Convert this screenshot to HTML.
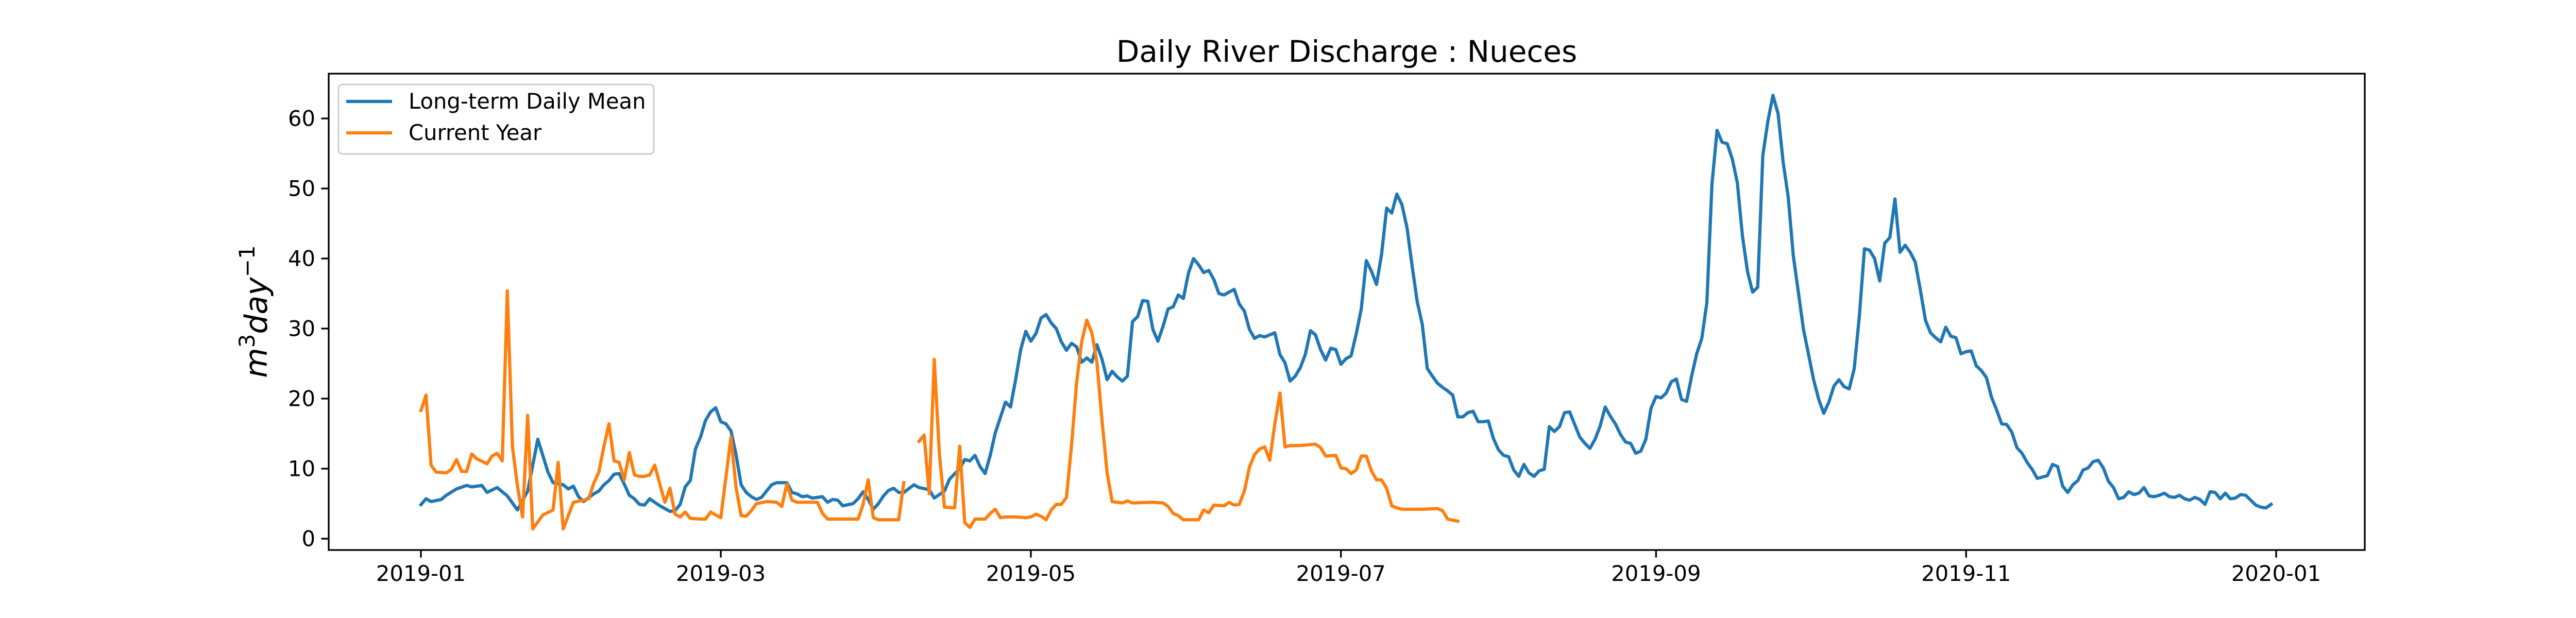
<!DOCTYPE html>
<html><head><meta charset="utf-8"><style>
html,body{margin:0;padding:0;background:#fff;}
svg{display:block;font-family:"DejaVu Sans","Liberation Sans",sans-serif;}
</style></head><body>
<svg id="chart" width="5100" height="1200" viewBox="0 0 5100 1200" xmlns="http://www.w3.org/2000/svg">
<rect x="0" y="0" width="5100" height="1200" fill="#fff"/>
<text x="2614" y="120" font-size="58" text-anchor="middle" fill="#000">Daily River Discharge : Nueces</text>
<g id="plot"></g>
<text transform="translate(518,605) rotate(-90)" font-size="60" text-anchor="middle" fill="#000" font-style="italic">m<tspan font-style="normal" font-size="42" dy="-24">3</tspan><tspan dy="24">day</tspan><tspan font-style="normal" font-size="42" dy="-24">−1</tspan></text>
<g>
<rect x="657" y="164" width="612" height="135" rx="8" fill="#fff" fill-opacity="0.8" stroke="#ccc" stroke-width="3"/>
<line x1="672" y1="197" x2="761" y2="197" stroke="#1f77b4" stroke-width="6.25"/>
<text x="793" y="211" font-size="41.7" fill="#000">Long-term Daily Mean</text>
<line x1="672" y1="258" x2="761" y2="258" stroke="#ff7f0e" stroke-width="6.25"/>
<text x="793" y="272" font-size="41.7" fill="#000">Current Year</text>
</g>
</svg>
<script>
const meanDays=[0,1,2,4,5,7,9,10,12,13,15,17,19,21,23,25,26,28,29,30,31,32,34,35,36,37,38,39,40,41,42,43,44,45,46,47,49,50,51,52,53,54,55,56,57,58,59,60,61,62,63,64,65,66,67,68,69,70,72,73,74,75,76,77,79,80,81,82,83,85,86,87,88,89,90,91,92,93,94,95,97,98,100,101,103,104,106,107,108,109,110,111,112,113,114,115,116,117,118,119,120,121,122,123,124,125,126,127,128,129,130,131,132,133,134,135,136,137,138,139,140,141,142,143,144,145,146,147,148,149,150,151,152,153,154,155,156,157,158,159,160,161,162,163,164,165,166,167,168,169,170,171,172,173,174,175,176,177,178,179,180,181,182,183,184,185,186,187,188,189,190,191,192,193,194,195,196,197,198,199,200,201,202,203,204,205,206,207,208,209,210,211,212,213,214,215,216,217,218,219,220,221,222,223,224,225,226,227,228,229,230,231,232,233,234,235,236,237,238,239,240,241,242,243,244,245,246,247,248,249,250,251,252,253,254,255,256,257,258,259,260,261,262,263,264,265,266,267,268,269,270,271,272,273,274,275,276,277,278,279,280,281,282,283,284,285,286,287,288,289,290,291,292,293,294,295,296,297,298,299,300,301,302,303,304,305,306,307,308,309,310,311,312,313,314,315,316,317,318,320,321,322,323,324,325,326,327,328,329,330,331,332,333,334,335,336,337,338,339,340,341,342,343,344,345,346,347,348,349,350,351,352,353,354,355,356,357,358,359,360,361,362,363,364];
const meanValues=[4.85,5.7,5.3,5.6,6.2,7.1,7.6,7.4,7.6,6.6,7.3,6.1,4.1,6.8,14.2,9.5,8.0,7.7,7.1,7.5,6.0,5.3,6.4,6.8,7.7,8.3,9.2,9.3,7.8,6.2,5.7,4.9,4.8,5.7,5.2,4.7,3.9,4.0,4.9,7.4,8.3,12.8,14.5,16.9,18.1,18.7,16.7,16.4,15.4,12.0,7.7,6.6,6.0,5.6,5.9,6.8,7.7,8.0,8.0,6.6,6.4,6.0,6.1,5.8,6.0,5.2,5.6,5.5,4.7,5.0,5.7,6.7,5.6,4.2,5.0,6.1,6.9,7.2,6.6,6.6,7.7,7.3,7.0,5.8,6.8,8.5,10.0,11.3,11.1,11.9,10.3,9.3,11.9,15.1,17.3,19.5,18.8,22.7,27.0,29.6,28.2,29.3,31.5,32.0,30.8,30.0,28.1,26.9,27.9,27.4,25.2,25.8,25.2,27.7,25.6,22.7,23.9,23.1,22.5,23.2,31.0,31.7,34.0,33.9,29.9,28.2,30.3,32.8,33.1,34.8,34.3,37.9,40.0,39.1,38.0,38.3,37.0,35.0,34.8,35.2,35.6,33.5,32.5,29.9,28.6,29.0,28.8,29.1,29.4,26.3,25.1,22.5,23.2,24.4,26.3,29.7,29.1,27.0,25.5,27.2,27.0,24.9,25.7,26.1,29.2,32.8,39.7,38.2,36.3,40.6,47.2,46.5,49.2,47.7,44.4,39.0,33.9,30.6,24.3,23.2,22.2,21.6,21.1,20.5,17.4,17.4,18.0,18.2,16.7,16.7,16.8,14.3,12.7,11.9,11.7,9.8,8.9,10.6,9.4,8.9,9.7,9.9,16.0,15.3,16.0,18.0,18.1,16.3,14.5,13.6,12.9,14.2,16.1,18.8,17.5,16.4,14.9,13.8,13.6,12.2,12.5,14.2,18.6,20.3,20.1,20.8,22.4,22.8,19.9,19.6,23.2,26.4,28.6,33.7,50.6,58.3,56.6,56.4,54.2,50.8,43.2,38.1,35.2,35.9,54.7,59.6,63.3,60.7,53.8,48.8,40.4,35.2,29.9,26.3,22.7,19.9,17.9,19.5,21.8,22.7,21.7,21.4,24.3,31.8,41.4,41.2,40.0,36.8,42.2,43.0,48.5,40.9,41.9,40.9,39.5,35.5,31.2,29.4,28.7,28.1,30.2,28.9,28.7,26.4,26.7,26.8,24.7,24.0,23.0,20.2,18.4,16.4,16.3,15.2,13.0,12.2,10.9,9.9,8.6,9.0,10.6,10.3,7.5,6.6,7.7,8.3,9.8,10.1,11.0,11.2,10.1,8.2,7.3,5.7,5.9,6.7,6.3,6.5,7.3,6.1,6.0,6.2,6.5,6.0,5.9,6.2,5.7,5.5,5.9,5.6,4.9,6.7,6.6,5.7,6.5,5.7,5.8,6.3,6.2,5.5,4.8,4.5,4.4,4.9];
const currentDays=[0,1,2,3,5,6,7,8,9,10,11,13,14,15,16,17,18,19,20,21,22,23,24,26,27,28,30,32,33,34,35,36,37,38,39,40,41,42,43,44,45,46,47,48,49,50,51,52,53,55,56,57,58,59,61,62,63,64,65,66,68,70,71,72,73,74,78,79,80,86,87,88,89,90,94,95,96,98,99,100,101,102,103,105,106,107,108,109,111,112,113,114,115,117,119,120,121,122,123,124,125,126,127,128,129,130,131,132,133,134,135,136,138,139,140,144,146,147,148,149,150,153,154,155,156,158,159,160,161,162,163,164,165,166,167,168,169,170,171,173,176,177,178,180,181,182,183,184,185,186,187,188,189,190,191,192,193,197,200,201,202,204];
const currentValues=[18.3,20.5,10.5,9.5,9.4,9.9,11.3,9.6,9.6,12.1,11.4,10.7,11.8,12.2,11.1,35.4,13.2,7.5,3.1,17.6,1.4,2.4,3.4,4.1,10.9,1.4,5.2,5.5,5.7,7.9,9.5,13.2,16.4,11.1,10.9,8.4,12.3,9.1,8.9,8.9,9.1,10.5,7.8,5.2,7.2,3.5,3.1,3.8,2.9,2.8,2.8,3.8,3.4,3.0,14.5,7.3,3.3,3.2,4.0,5.0,5.3,5.2,4.6,7.8,5.5,5.2,5.2,3.6,2.8,2.8,4.9,8.4,3.0,2.7,2.7,8.0,null,13.9,14.8,6.4,25.6,12.2,4.5,4.4,13.2,2.3,1.6,2.8,2.8,3.6,4.2,3.0,3.1,3.1,3.0,3.1,3.5,3.2,2.7,4.1,4.9,4.9,5.9,13.3,22.3,28.1,31.2,29.4,25.2,16.9,9.4,5.3,5.1,5.4,5.1,5.2,5.1,4.6,3.6,3.3,2.7,2.7,4.1,3.7,4.8,4.7,5.2,4.8,4.9,6.8,10.2,12.0,12.8,13.1,11.2,16.4,20.8,13.1,13.3,13.3,13.5,13.0,11.8,11.9,10.1,10.0,9.3,9.8,11.8,11.8,9.7,8.4,8.4,7.2,4.7,4.4,4.2,4.2,4.3,4.0,2.8,2.5];
const yTicks=[0,10,20,30,40,50,60];
const xTickDays=[0,59,120,181,243,304,365];
const xTickLabels=["2019-01","2019-03","2019-05","2019-07","2019-09","2019-11","2020-01"];

const NS="http://www.w3.org/2000/svg";
const L=638,R=4590,T=143,B=1068;
const xs=d=>817+d*(4418-817)/365;
const ys=v=>1046-v*13.6;
const plot=document.getElementById('plot');
function mk(tag,attrs){const e=document.createElementNS(NS,tag);for(const k in attrs)e.setAttribute(k,attrs[k]);return e;}
function pathFrom(days,vals){let d='',pen=false;for(let i=0;i<days.length;i++){if(vals[i]===null){pen=false;continue;}d+=(pen?'L':'M')+xs(days[i]).toFixed(1)+' '+ys(vals[i]).toFixed(1);pen=true;}return d;}
const pm=mk('path',{d:pathFrom(meanDays,meanValues),fill:'none',stroke:'#1f77b4','stroke-width':6.25,'stroke-linejoin':'round','stroke-linecap':'square'});


plot.appendChild(pm);
const pc=mk('path',{d:pathFrom(currentDays,currentValues),fill:'none',stroke:'#ff7f0e','stroke-width':6.25,'stroke-linejoin':'round','stroke-linecap':'square'});


plot.appendChild(pc);
const frame=mk('rect',{x:L,y:T,width:R-L,height:B-T,fill:'none',stroke:'#000','stroke-width':3.3});


plot.appendChild(frame);
yTicks.forEach(v=>{const y=ys(v);
const t=mk('line',{x1:L-14.6,x2:L,y1:y,y2:y,stroke:'#000','stroke-width':3.3});


plot.appendChild(t);
const tx=mk('text',{x:L-26,y:y+14.5,'font-size':41.7,'text-anchor':'end',fill:'#000'});tx.textContent=v;


plot.appendChild(tx);});
xTickDays.forEach((d,i)=>{const x=xs(d);
const t=mk('line',{x1:x,x2:x,y1:B,y2:B+14.6,stroke:'#000','stroke-width':3.3});


plot.appendChild(t);
const tx=mk('text',{x:x,y:B+60,'font-size':41.7,'text-anchor':'middle',fill:'#000'});tx.textContent=xTickLabels[i];


plot.appendChild(tx);});
</script>
</body></html>
